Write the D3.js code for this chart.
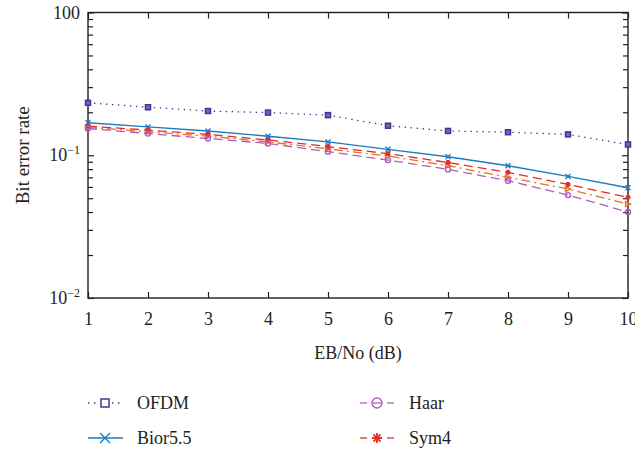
<!DOCTYPE html>
<html>
<head>
<meta charset="utf-8">
<script src="https://cdn.jsdelivr.net/npm/d3@7"></script>
<style>
  html, body { margin: 0; padding: 0; background: #fff; }
  text { font-family: "Liberation Serif", "Times New Roman", "DejaVu Serif", serif !important; fill: #231f20; }
</style>
</head>
<body>
<svg id="chart" width="635" height="451" font-family="Liberation Serif, serif"></svg>
<script>
// Eb/No sweep (dB)
const ebno = [1, 2, 3, 4, 5, 6, 7, 8, 9, 10];

// Bit error rate per scheme
const ofdm    = [0.233, 0.217, 0.204, 0.199, 0.191, 0.161, 0.148, 0.145, 0.140, 0.119];
const bior55  = [0.169, 0.158, 0.148, 0.136, 0.124, 0.110, 0.0976, 0.0845, 0.0711, 0.0592];
const sym4    = [0.160, 0.150, 0.140, 0.128, 0.115, 0.1025, 0.089, 0.0759, 0.0625, 0.0507];
const db      = [0.157, 0.146, 0.136, 0.124, 0.111, 0.0987, 0.0845, 0.070, 0.058, 0.0455];
const haar    = [0.154, 0.142, 0.131, 0.121, 0.106, 0.0925, 0.0796, 0.0663, 0.0526, 0.040];

const xTicks = [1, 2, 3, 4, 5, 6, 7, 8, 9, 10];
const yMajor = [1, 0.1, 0.01];

const series = [
  { name: "OFDM",     values: ofdm,   color: "#3d3797", dash: "1.4 4.6", width: 1.3, marker: "square",   legend: true },
  { name: "Bior5.5",  values: bior55, color: "#1a7bc4", dash: null,      width: 1.4, marker: "cross",    legend: true },
  { name: "Db",       values: db,     color: "#e8731f", dash: "9 4 2 4", width: 1.3, marker: "triangle", legend: false },
  { name: "Sym4",     values: sym4,   color: "#ea2a25", dash: "9 5",     width: 1.3, marker: "star",     legend: true },
  { name: "Haar",     values: haar,   color: "#b05cbb", dash: "9 5",     width: 1.3, marker: "circle",   legend: true }
];

const FONT = "Liberation Serif, Times New Roman, serif";
const FS = 18;
const svg = d3.select("#chart");
const plot = { left: 88, right: 628, top: 12.5, bottom: 298 };

const x = d3.scaleLinear().domain([1, 10]).range([plot.left, plot.right]);
const y = d3.scaleLog().domain([0.01, 1]).range([plot.bottom, plot.top]);

const axisColor = "#231f20";

// minor log ticks between decades
const minor = [];
for (let e = -2; e < 0; e++) for (let k = 2; k <= 9; k++) minor.push(k * Math.pow(10, e));

const g = svg.append("g");

// bottom axis: ticks pointing in
const xb = g.append("g").attr("transform", `translate(0,${plot.bottom})`)
  .call(d3.axisBottom(x).tickValues(xTicks).tickSizeInner(-6).tickSizeOuter(0).tickPadding(14).tickFormat(d3.format("d")));
xb.attr("font-family", FONT).selectAll("text").attr("font-size", FS);
// top axis ticks
g.append("g").attr("transform", `translate(0,${plot.top})`)
  .call(d3.axisTop(x).tickValues(xTicks).tickSizeInner(-6).tickSizeOuter(0).tickFormat(""));

// left / right axes: majors and minors
[[plot.left, d3.axisLeft], [plot.right, d3.axisRight]].forEach(([px, ax]) => {
  g.append("g").attr("transform", `translate(${px},0)`)
    .call(ax(y).tickValues(yMajor).tickSizeInner(-6).tickSizeOuter(0).tickFormat(""));
  g.append("g").attr("transform", `translate(${px},0)`)
    .call(ax(y).tickValues(minor).tickSizeInner(-5).tickSizeOuter(0).tickFormat(""));
});

g.selectAll(".domain").remove();
g.selectAll(".tick line").attr("stroke", axisColor).attr("stroke-width", 1.2);
g.selectAll(".tick text").attr("fill", axisColor);

// y tick labels as powers of ten
yMajor.forEach(v => {
  const exp = Math.round(Math.log10(v));
  const t = svg.append("text").attr("x", plot.left - 8).attr("y", y(v) + 6)
    .attr("text-anchor", "end").attr("font-size", FS).attr("font-family", FONT);
  if (exp === 0) {
    t.text("100");
  } else {
    t.append("tspan").text("10");
    t.append("tspan").attr("dy", -7).attr("font-size", 12).text("\u2212" + Math.abs(exp));
  }
});

// frame
svg.append("rect")
  .attr("x", plot.left).attr("y", plot.top)
  .attr("width", plot.right - plot.left).attr("height", plot.bottom - plot.top)
  .attr("fill", "none").attr("stroke", axisColor).attr("stroke-width", 1.4);

// axis titles
svg.append("text").attr("x", (plot.left + plot.right) / 2).attr("y", 359)
  .attr("text-anchor", "middle").attr("font-size", FS).attr("font-family", FONT).text("EB/No (dB)");
svg.append("text").attr("transform", `translate(29,${(plot.top + plot.bottom) / 2}) rotate(-90)`)
  .attr("text-anchor", "middle").attr("font-size", 19).attr("font-family", FONT).text("Bit error rate");

// marker drawing
function drawMarker(sel, type, color, size, fill) {
  const s = size;
  if (type === "square") {
    sel.append("rect").attr("x", -s / 2).attr("y", -s / 2).attr("width", s).attr("height", s)
      .attr("fill", fill || "#6f6ab8").attr("stroke", color).attr("stroke-width", 1.5);
  } else if (type === "cross") {
    sel.append("path").attr("d", `M${-s/2},${-s/2}L${s/2},${s/2}M${-s/2},${s/2}L${s/2},${-s/2}`)
      .attr("stroke", color).attr("stroke-width", 1.4).attr("fill", "none");
  } else if (type === "star") {
    const r = s / 2;
    let d = "";
    for (let i = 0; i < 4; i++) {
      const a = i * Math.PI / 4;
      d += `M${-r * Math.cos(a)},${-r * Math.sin(a)}L${r * Math.cos(a)},${r * Math.sin(a)}`;
    }
    sel.append("path").attr("d", d).attr("stroke", color).attr("stroke-width", 1.8).attr("fill", "none");
  } else if (type === "circle") {
    sel.append("circle").attr("r", s / 2).attr("fill", "none").attr("stroke", color).attr("stroke-width", 1.4);
  } else if (type === "triangle") {
    const r = s / 2;
    sel.append("path").attr("d", `M${-r},${-r}L${r},0L${-r},${r}Z`)
      .attr("fill", "none").attr("stroke", color).attr("stroke-width", 1.4);
  }
}

const line = d3.line().x(d => x(d[0])).y(d => y(d[1]));

series.forEach(s => {
  const pts = ebno.map((e, i) => [e, s.values[i]]);
  svg.append("path").datum(pts).attr("d", line)
    .attr("fill", "none").attr("stroke", s.color).attr("stroke-width", s.width)
    .attr("stroke-dasharray", s.dash);
  svg.append("g").selectAll("g").data(pts).join("g")
    .attr("transform", d => `translate(${x(d[0])},${y(d[1])})`)
    .each(function () { drawMarker(d3.select(this), s.marker, s.color, 5); });
});

// legend, two columns
const legendPos = [
  { x: 88, y: 403 }, { x: 360, y: 403 },
  { x: 88, y: 438 }, { x: 360, y: 438 }
];
const order = ["OFDM", "Haar", "Bior5.5", "Sym4"];
order.forEach((nm, i) => {
  const s = series.find(d => d.name === nm);
  const p = legendPos[i];
  const lg = svg.append("g").attr("transform", `translate(${p.x},${p.y})`);
  if (s.marker === "square") {
    lg.append("line").attr("x1", 0).attr("x2", 35)
      .attr("stroke", s.color).attr("stroke-width", s.width).attr("stroke-dasharray", "1.4 4.6");
  } else if (!s.dash) {
    lg.append("line").attr("x1", 0).attr("x2", 35)
      .attr("stroke", s.color).attr("stroke-width", s.width);
  } else {
    [[0, 7], [27, 34]].forEach(([a, b]) =>
      lg.append("line").attr("x1", a).attr("x2", b).attr("stroke", s.color).attr("stroke-width", s.width));
  }
  const m = lg.append("g").attr("transform", "translate(17,0)");
  if (s.marker === "square") {
    m.append("rect").attr("x", -6).attr("y", -6).attr("width", 12).attr("height", 12).attr("fill", "#fff");
    drawMarker(m, "square", s.color, 8, "#fff");
  } else {
    drawMarker(m, s.marker, s.color, 10);
    if (s.marker === "circle") m.append("line").attr("x1", -5).attr("x2", 5).attr("stroke", s.color).attr("stroke-width", 1.3);
  }
  lg.append("text").attr("x", 49).attr("y", 6).attr("font-size", FS).attr("font-family", FONT).text(s.name);
});
</script>
</body>
</html>
